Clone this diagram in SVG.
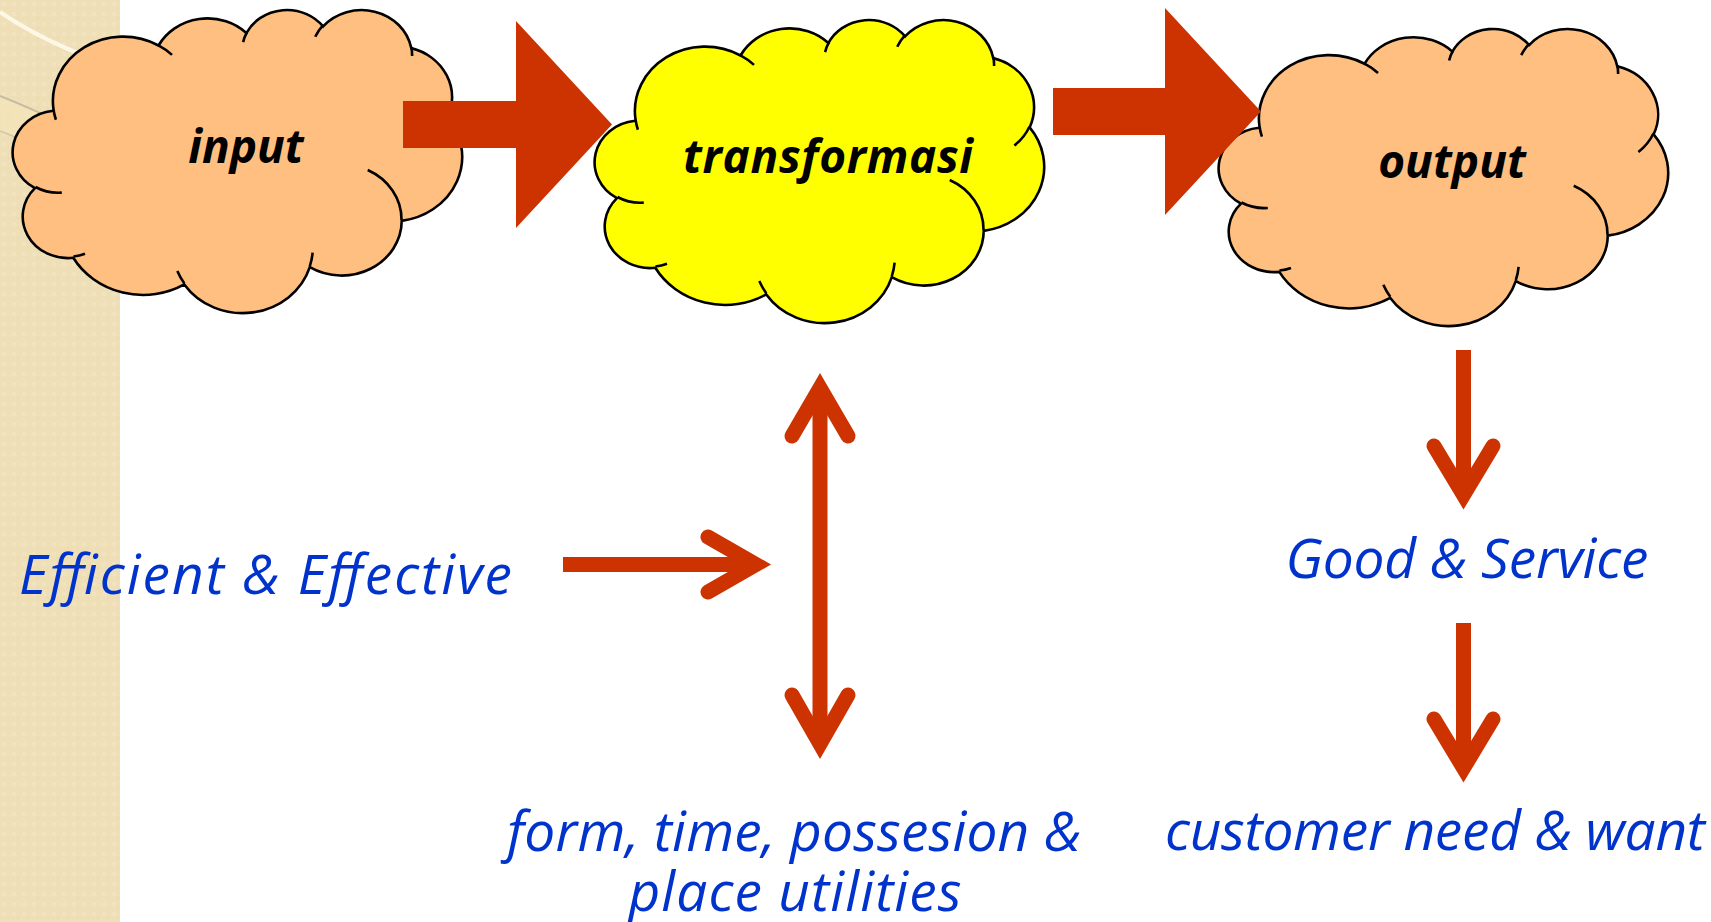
<svg xmlns="http://www.w3.org/2000/svg" xmlns:xlink="http://www.w3.org/1999/xlink" width="1711" height="922" viewBox="0 0 1711 922">
  <style>
    .cloud-outline { stroke: #000; stroke-width: 2.6; vector-effect: non-scaling-stroke; }
    .cloud-ticks { fill: none; stroke: #000; stroke-width: 2.6; vector-effect: non-scaling-stroke; }
    .label { font-family: "Open Sans", "DejaVu Sans", sans-serif; font-weight: bold; font-style: italic; font-size: 46px; fill: #000; text-anchor: middle; }
    .note { font-family: "Open Sans", "DejaVu Sans", sans-serif; font-style: italic; font-size: 55px; fill: #0033CC; }
    .block { fill: #CC3300; }
    .shaft { stroke: #CC3300; stroke-width: 15; fill: none; }
    .head { stroke: #CC3300; stroke-width: 15; fill: none; stroke-linecap: round; stroke-linejoin: miter; stroke-miterlimit: 10; }
  </style>
  <defs>
    <!-- cloud outline in a 43200 x 43200 unit box -->
    <path id="cloud-body" class="cloud-outline" d="M3900 14370 A6753 9190 0 0 1 14005 5202 A5333 7267 0 0 1 22455 3433 A4365 5945 0 0 1 29833 2482 A4857 6595 0 0 1 38317 5577 A5333 7273 0 0 1 41818 15461 A6775 9220 0 0 1 37403 30204 A5785 7867 0 0 1 28555 36814 A6752 9215 0 0 1 16480 39266 A7720 10543 0 0 1 5803 35470 A4360 5918 0 0 1 2112 25548 A4345 5945 0 0 1 3862 14505 Z"/>
    <!-- inner fold strokes of the cloud -->
    <path id="cloud-folds" class="cloud-ticks" d="M4693 26177 A4345 5945 0 0 1 2160 25380 M6928 34899 A4360 5918 0 0 1 5820 35280 M16478 39090 A6752 9215 0 0 1 15810 37349 M28827 34751 A6752 9215 0 0 1 28560 36660 M34129 22954 A5785 7867 0 0 1 37381 30090 M41798 15354 A5333 7273 0 0 1 40350 18030 M38324 5426 A4857 6595 0 0 1 38400 6690 M29078 3952 A4857 6595 0 0 1 29820 2339 M22141 4720 A4365 5945 0 0 1 22500 3331 M14000 5192 A6753 9190 0 0 1 15300 6540 M4127 15789 A6753 9190 0 0 1 3900 14371"/>
    <pattern id="weave" width="10" height="10" patternUnits="userSpaceOnUse">
      <rect width="10" height="10" fill="#EFDFB7"/>
      <rect x="2" y="2" width="4" height="4" fill="#F3E6C4" opacity="0.7"/>
      <rect x="7" y="7" width="2" height="2" fill="#E9D8AE" opacity="0.7"/>
    </pattern>
  </defs>

  <!-- page background -->
  <rect width="1711" height="922" fill="#FFFFFF"/>
  <g id="side-band">
    <rect x="0" y="0" width="120" height="922" fill="url(#weave)"/>
    <path d="M0 96 Q40 112 80 132 L80 160 Q30 140 0 131 Z" fill="#F4E4B8" opacity="0.8"/>
    <path d="M0 12 Q38 38 90 58" fill="none" stroke="#FDF7E6" stroke-width="4"/>
    <path d="M0 96 Q40 112 80 132" fill="none" stroke="#C6BCA2" stroke-width="2"/>
    <path d="M0 131 Q12 135 24 142" fill="none" stroke="#CFC5AA" stroke-width="1.5"/>
  </g>

  <g id="node-input">
    <g transform="translate(13 9) scale(0.0103935 0.0070139)">
      <use href="#cloud-body" fill="#FFBF80"/>
      <use href="#cloud-folds"/>
    </g>
    <text class="label" x="246" y="163">input</text>
  </g>

  <g id="node-transformasi">
    <g transform="translate(595 19) scale(0.0103935 0.0070139)">
      <use href="#cloud-body" fill="#FFFF00"/>
      <use href="#cloud-folds"/>
    </g>
    <text class="label" x="828" y="173" textLength="290" lengthAdjust="spacing">transformasi</text>
  </g>

  <g id="node-output">
    <g transform="translate(1219 28) scale(0.0103935 0.006875)">
      <use href="#cloud-body" fill="#FFBF80"/>
      <use href="#cloud-folds"/>
    </g>
    <text class="label" x="1452" y="178">output</text>
  </g>

  <g id="node-efficient">
    <text class="note" x="19" y="594" textLength="493" lengthAdjust="spacing">Efficient &amp; Effective</text>
  </g>
  <g id="node-utilities">
    <text class="note" x="794" y="851" text-anchor="middle" textLength="574" lengthAdjust="spacing">form, time, possesion &amp;</text>
    <text class="note" x="795" y="911" text-anchor="middle" textLength="333" lengthAdjust="spacing">place utilities</text>
  </g>
  <g id="node-goods">
    <text class="note" x="1467" y="578" text-anchor="middle" textLength="363" lengthAdjust="spacing">Good &amp; Service</text>
  </g>
  <g id="node-customer">
    <text class="note" x="1435" y="850" text-anchor="middle" textLength="540" lengthAdjust="spacing">customer need &amp; want</text>
  </g>

  <g id="connectors">
    <!-- block arrows between the clouds -->
    <polygon class="block" points="403,101 516,101 516,21 612,124.5 516,228 516,148 403,148"/>
    <polygon class="block" points="1053,88 1165,88 1165,8 1261,111.5 1165,215 1165,135 1053,135"/>

    <!-- Efficient & Effective into the transformation axis -->
    <line class="shaft" x1="563" y1="564.5" x2="756" y2="564.5"/>
    <polyline class="head" points="708,537 756,564.5 708,592"/>

    <!-- two-way arrow below transformasi -->
    <line class="shaft" x1="820" y1="388" x2="820" y2="744"/>
    <polyline class="head" points="792,436 820,388 848,436"/>
    <polyline class="head" points="792,695 820,744 848,695"/>

    <!-- output to goods, goods to customer -->
    <line class="shaft" x1="1463.5" y1="350" x2="1463.5" y2="495"/>
    <polyline class="head" points="1434,446 1463.5,495 1493,446"/>
    <line class="shaft" x1="1463.5" y1="623" x2="1463.5" y2="768"/>
    <polyline class="head" points="1434,719 1463.5,768 1493,719"/>
  </g>
</svg>
